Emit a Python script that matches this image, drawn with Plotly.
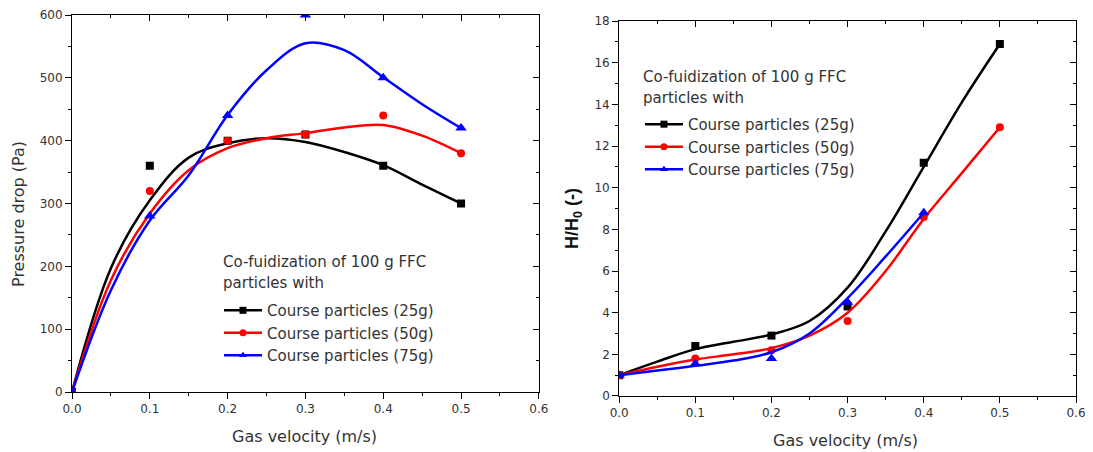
import plotly.graph_objects as go

# ---------------- data ----------------
velocity = [0.0, 0.1, 0.2, 0.3, 0.4, 0.5]
velocity_75 = [0.0, 0.1, 0.2, 0.3, 0.4]

dp_25 = [0, 360, 400, 410, 360, 300]
dp_50 = [0, 320, 400, 410, 440, 380]
dp_75 = [0, 280, 440, 600, 500, 420]

# smoothed fit curves
fit_x = [0.0, 0.05, 0.1, 0.15, 0.2, 0.25, 0.3, 0.35, 0.4, 0.45, 0.5]
fit_dp_25 = [0, 197, 305, 373, 396, 404, 398, 382, 361, 330, 300]
fit_dp_50 = [0, 178, 284, 353, 388, 404, 412, 421, 425, 408, 380]
fit_dp_75 = [0, 162, 273, 345, 441, 512, 555, 544, 501, 458, 420]

hh_25 = [1.0, 2.4, 2.9, 4.3, 11.2, 16.9]
hh_50 = [1.0, 1.8, 2.2, 3.6, 8.6, 12.9]
hh_75 = [1.0, 1.55, 1.8, 4.5, 8.8]

fit2_x = [0.0, 0.05, 0.1, 0.15, 0.2, 0.25, 0.3, 0.35, 0.4, 0.45, 0.5]
fit_hh_25 = [1.0, 1.65, 2.25, 2.6, 2.95, 3.6, 5.2, 7.9, 11.0, 14.1, 16.9]
fit_hh_50 = [1.0, 1.4, 1.75, 2.0, 2.3, 2.9, 4.0, 6.0, 8.5, 10.7, 12.9]
fit2_x_75 = [0.0, 0.05, 0.1, 0.15, 0.2, 0.25, 0.3, 0.35, 0.4]
fit_hh_75 = [1.0, 1.22, 1.45, 1.7, 2.1, 3.0, 4.7, 6.7, 8.8]

series_names = ["Course particles (25g)", "Course particles (50g)", "Course particles (75g)"]
colors = ["#000000", "#ff0000", "#0000ff"]
symbols = ["square", "circle", "triangle-up"]
msizes = [8, 8, 10]
legend_lines = ["Co-fuidization of 100 g FFC", "particles with"]

FONT = "DejaVu Sans, Verdana, sans-serif"
TXT = "#333333"

fig = go.Figure()

left = [(velocity, dp_25, fit_x, fit_dp_25), (velocity, dp_50, fit_x, fit_dp_50),
        (velocity, dp_75, fit_x, fit_dp_75)]
right = [(velocity, hh_25, fit2_x, fit_hh_25), (velocity, hh_50, fit2_x, fit_hh_50),
         (velocity_75, hh_75, fit2_x_75, fit_hh_75)]

for i, (px, py, fx, fy) in enumerate(left):
    fig.add_trace(go.Scatter(x=fx, y=fy, mode="lines", line=dict(color=colors[i], width=2.5, shape="spline", smoothing=1.0),
                             xaxis="x", yaxis="y", showlegend=False, hoverinfo="skip"))
    fig.add_trace(go.Scatter(x=px, y=py, mode="markers", marker=dict(color=colors[i], symbol=symbols[i], size=msizes[i]),
                             xaxis="x", yaxis="y", showlegend=False))
for i in range(3):
    fig.add_trace(go.Scatter(x=[None], y=[None], mode="lines+markers", name=series_names[i],
                             line=dict(color=colors[i], width=2.5),
                             marker=dict(color=colors[i], symbol=symbols[i], size=7),
                             xaxis="x", yaxis="y", legend="legend"))

for i, (px, py, fx, fy) in enumerate(right):
    fig.add_trace(go.Scatter(x=fx, y=fy, mode="lines", line=dict(color=colors[i], width=2.5, shape="spline", smoothing=1.0),
                             xaxis="x2", yaxis="y2", showlegend=False, hoverinfo="skip"))
    fig.add_trace(go.Scatter(x=px, y=py, mode="markers", marker=dict(color=colors[i], symbol=symbols[i], size=msizes[i]),
                             xaxis="x2", yaxis="y2", showlegend=False))
for i in range(3):
    fig.add_trace(go.Scatter(x=[None], y=[None], mode="lines+markers", name=series_names[i],
                             line=dict(color=colors[i], width=2.5),
                             marker=dict(color=colors[i], symbol=symbols[i], size=7),
                             xaxis="x2", yaxis="y2", legend="legend2"))

# invisible traces so mirror axes are drawn
for xa, ya in [("x3", "y3"), ("x4", "y4")]:
    fig.add_trace(go.Scatter(x=[None], y=[None], xaxis=xa, yaxis=ya, showlegend=False, hoverinfo="skip"))

tickfont = dict(family=FONT, size=12, color=TXT)

def xax(domain, anchor):
    return dict(domain=domain, anchor=anchor, range=[0, 0.6], dtick=0.1, tickformat=".1f",
                automargin=False,
                showgrid=False, zeroline=False, showline=True, linecolor="#000", linewidth=1,
                mirror=True, ticks="outside", ticklen=6, tickcolor="#000",
                minor=dict(dtick=0.05, ticks="outside", ticklen=3, tickcolor="#000"),
                tickfont=tickfont)

def yax(domain, anchor, rng, dtick, mdtick):
    return dict(domain=domain, anchor=anchor, range=rng, dtick=dtick,
                automargin=False,
                showgrid=False, zeroline=False, showline=True, linecolor="#000", linewidth=1,
                mirror=True, ticks="outside", ticklen=6, tickcolor="#000",
                minor=dict(dtick=mdtick, ticks="outside", ticklen=3, tickcolor="#000"),
                tickfont=tickfont)

def xtop(domain, over, anchor):
    return dict(domain=domain, overlaying=over, anchor=anchor, side="top", range=[0, 0.6], dtick=0.1,
                automargin=False,
                showgrid=False, zeroline=False, showline=False, showticklabels=False,
                ticks="inside", ticklen=6, tickcolor="#000",
                minor=dict(dtick=0.05, ticks="inside", ticklen=3, tickcolor="#000"))

def yright(domain, over, anchor, rng, dtick, mdtick):
    return dict(domain=domain, overlaying=over, anchor=anchor, side="right", range=rng, dtick=dtick,
                automargin=False,
                showgrid=False, zeroline=False, showline=False, showticklabels=False,
                ticks="inside", ticklen=6, tickcolor="#000",
                minor=dict(dtick=mdtick, ticks="inside", ticklen=3, tickcolor="#000"))

dl = [0.0, 0.465]
dr = [0.545, 1.0]
yl = [0.0105, 1.0]
yr = [0.0, 0.984]

legend_common = dict(bgcolor="rgba(0,0,0,0)", font=dict(family=FONT, size=15, color=TXT),
                     itemwidth=38, tracegroupgap=0, xanchor="left", yanchor="top")

annots = []
for (xp, ys) in [(0.1484, [0.3517, 0.2966]), (0.5667, [0.8373, 0.7822])]:
    for txt, yp in zip(legend_lines, ys):
        annots.append(dict(text=txt, x=xp, y=yp, xref="paper", yref="paper", xanchor="left",
                           yanchor="middle", showarrow=False,
                           font=dict(family=FONT, size=15, color=TXT)))

# axis titles
annots.append(dict(text="Pressure drop (Pa)", x=-0.0528, y=0.4777, xref="paper", yref="paper",
                   textangle=-90, showarrow=False, xanchor="center", yanchor="middle",
                   font=dict(family=FONT, size=16, color=TXT)))
annots.append(dict(text="<b>H/H<sub>0</sub> (-)</b>", x=0.5, y=0.4646, xref="paper", yref="paper",
                   textangle=-90, showarrow=False, xanchor="center", yanchor="middle",
                   font=dict(family="Liberation Sans, Arial, sans-serif", size=18, color="#111")))
for xp, yp in [(0.232, -0.1076), (0.7709, -0.1155)]:
    annots.append(dict(text="Gas velocity (m/s)", x=xp, y=yp, xref="paper", yref="paper",
                       showarrow=False, xanchor="center", yanchor="middle",
                       font=dict(family=FONT, size=16, color=TXT)))

fig.update_layout(
    width=1085, height=444,
    margin=dict(l=64, r=17, t=7, b=56),
    paper_bgcolor="white", plot_bgcolor="white",
    xaxis=xax(dl, "y"),
    yaxis=yax(yl, "x", [0, 600], 100, 50),
    xaxis2=xax(dr, "y2"),
    yaxis2=yax(yr, "x2", [0, 18], 2, 1),
    xaxis3=xtop(dl, "x", "y3"),
    yaxis3=yright(yl, "y", "x3", [0, 600], 100, 50),
    xaxis4=xtop(dr, "x2", "y4"),
    yaxis4=yright(yr, "y2", "x4", [0, 18], 2, 1),
    legend=dict(x=0.1464, y=0.2675, **legend_common),
    legend2=dict(x=0.5657, y=0.7561, **legend_common),
    annotations=annots,
    showlegend=True,
)

fig.write_html("out.html")
